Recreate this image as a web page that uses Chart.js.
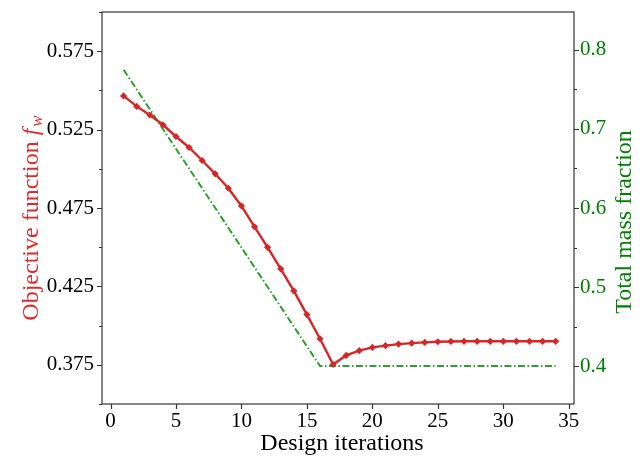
<!DOCTYPE html>
<html>
<head>
<meta charset="utf-8">
<script src="https://cdn.jsdelivr.net/npm/chart.js@4.4.1/dist/chart.umd.min.js"></script>
<style>
  html, body { margin: 0; padding: 0; background: #fff; }
  canvas { display: block; }
</style>
</head>
<body>
<canvas id="convChart" width="644" height="457"></canvas>
<script>
// بيانات الرسم
const iterations = [1, 2, 3, 4, 5, 6, 7, 8, 9, 10, 11, 12, 13, 14, 15, 16, 17,
  18, 19, 20, 21, 22, 23, 24, 25, 26, 27, 28, 29, 30, 31, 32, 33, 34];
const objective = [0.5465, 0.5398, 0.5343, 0.5281, 0.5206, 0.5136, 0.5053, 0.4968,
  0.4876, 0.4763, 0.4630, 0.4499, 0.4362, 0.4221, 0.4070, 0.3916, 0.3752,
  0.3810, 0.3841, 0.3861, 0.3872, 0.3882, 0.3888, 0.3893, 0.3897, 0.3899,
  0.3900, 0.3900, 0.3900, 0.3900, 0.3900, 0.3900, 0.3900, 0.3900];
const massFraction = [0.775, 0.750, 0.725, 0.700, 0.675, 0.650, 0.625, 0.600,
  0.575, 0.550, 0.525, 0.500, 0.475, 0.450, 0.425, 0.400, 0.400,
  0.400, 0.400, 0.400, 0.400, 0.400, 0.400, 0.400, 0.400, 0.400,
  0.400, 0.400, 0.400, 0.400, 0.400, 0.400, 0.400, 0.400];
const leftTickLabels = ['0.375', '0.425', '0.475', '0.525', '0.575'];
const rightTickLabels = ['0.4', '0.5', '0.6', '0.7', '0.8'];

const RED = '#d62728';
const GREEN = '#2ca02c';
const GREEN_TEXT = '#008000';
const SERIF = '"Liberation Serif", "DejaVu Serif", serif';

function label3(v) { return v.toFixed(3); }
function label1(v) { return v.toFixed(1); }

// نثبت مقاس كل محور ونلغي الحشو اللي بيضيفه Chart.js للعناوين
function fixSize(prop, size) {
  return s => {
    s[prop] = size;
    s.paddingTop = 0; s.paddingBottom = 0;
    s.paddingLeft = 0; s.paddingRight = 0;
  };
}

// الإطار + العلامات + عناوين المحاور
const framePlugin = {
  id: 'frame',
  afterDraw(chart) {
    const { ctx, chartArea: a, scales } = chart;
    ctx.save();
    ctx.strokeStyle = '#333';
    ctx.lineWidth = 1.2;
    ctx.strokeRect(a.left, a.top, a.right - a.left, a.bottom - a.top);

    ctx.beginPath();
    scales.x.ticks.forEach(t => {
      const px = Math.round(scales.x.getPixelForValue(t.value)) + 0.5;
      ctx.moveTo(px, a.bottom); ctx.lineTo(px, a.bottom + 5);
    });
    scales.y.ticks.forEach(t => {
      const py = Math.round(scales.y.getPixelForValue(t.value)) + 0.5;
      const len = leftTickLabels.includes(label3(t.value)) ? 5 : 3;
      ctx.moveTo(a.left - len, py); ctx.lineTo(a.left, py);
    });
    scales.y1.ticks.forEach(t => {
      const py = Math.round(scales.y1.getPixelForValue(t.value)) + 0.5;
      const len = rightTickLabels.includes(t.label) ? 5 : 3;
      ctx.moveTo(a.right, py); ctx.lineTo(a.right + len, py);
    });
    ctx.stroke();

    // عنوان المحور السفلي
    ctx.fillStyle = '#000';
    ctx.font = '24px ' + SERIF;
    ctx.textAlign = 'center';
    ctx.textBaseline = 'alphabetic';
    ctx.fillText('Design iterations', (a.left + a.right) / 2 + 4, 450);

    // عنوان المحور الأيسر (f مائل مع w سفلي)
    ctx.save();
    ctx.translate(38, 218);
    ctx.rotate(-Math.PI / 2);
    ctx.fillStyle = '#e02a2a';
    ctx.textAlign = 'left';
    const main = 'Objective function ';
    ctx.font = '24px ' + SERIF;
    const w1 = ctx.measureText(main).width;
    ctx.font = 'italic 24px ' + SERIF;
    const w2 = ctx.measureText('f').width;
    ctx.font = 'italic 17px ' + SERIF;
    const w3 = ctx.measureText('w').width;
    let x0 = -(w1 + w2 + w3 + 2) / 2;
    ctx.font = '24px ' + SERIF;
    ctx.fillText(main, x0, 0);
    ctx.font = 'italic 24px ' + SERIF;
    ctx.fillText('f', x0 + w1, 0);
    ctx.font = 'italic 17px ' + SERIF;
    ctx.fillText('w', x0 + w1 + w2 + 2, 4);
    ctx.restore();

    // عنوان المحور الأيمن
    ctx.save();
    ctx.translate(631, 222);
    ctx.rotate(-Math.PI / 2);
    ctx.fillStyle = GREEN_TEXT;
    ctx.font = '24px ' + SERIF;
    ctx.textAlign = 'center';
    ctx.fillText('Total mass fraction', 0, 0);
    ctx.restore();

    ctx.restore();
  }
};

const ctx = document.getElementById('convChart').getContext('2d');
new Chart(ctx, {
  type: 'line',
  data: {
    datasets: [
      {
        label: 'Objective function',
        data: iterations.map((it, i) => ({ x: it, y: objective[i] })),
        yAxisID: 'y',
        borderColor: RED,
        backgroundColor: RED,
        borderWidth: 2.4,
        pointStyle: 'rectRot',
        pointRadius: 3.6,
        pointBorderWidth: 0,
        tension: 0
      },
      {
        label: 'Total mass fraction',
        data: iterations.map((it, i) => ({ x: it, y: massFraction[i] })),
        yAxisID: 'y1',
        borderColor: GREEN,
        borderWidth: 2,
        borderDash: [7, 2.5, 1.5, 2.5],
        pointRadius: 0,
        tension: 0
      }
    ]
  },
  options: {
    responsive: false,
    animation: false,
    layout: { padding: { top: 12, left: 0, right: 0, bottom: 0 } },
    plugins: {
      legend: { display: false },
      tooltip: { enabled: false }
    },
    scales: {
      x: {
        type: 'linear',
        min: -0.65,
        max: 35.4,
        afterFit: fixSize('height', 53),
        grid: { drawOnChartArea: false, drawTicks: false },
        border: { display: false },
        ticks: {
          stepSize: 5,
          includeBounds: false,
          maxRotation: 0,
          padding: 5,
          color: '#000',
          font: { family: SERIF, size: 21 }
        }
      },
      y: {
        position: 'left',
        min: 0.35,
        max: 0.60,
        afterFit: fixSize('width', 102),
        grid: { drawOnChartArea: false, drawTicks: false },
        border: { display: false },
        ticks: {
          stepSize: 0.025,
          includeBounds: false,
          padding: 8,
          color: '#000',
          font: { family: SERIF, size: 21 },
          callback: v => leftTickLabels.includes(label3(v)) ? label3(v) : ''
        }
      },
      y1: {
        position: 'right',
        min: 0.352,
        max: 0.848,
        afterFit: fixSize('width', 70),
        grid: { drawOnChartArea: false, drawTicks: false },
        border: { display: false },
        ticks: {
          stepSize: 0.05,
          includeBounds: false,
          padding: 6,
          color: GREEN_TEXT,
          font: { family: SERIF, size: 21 },
          callback: v => rightTickLabels.includes(label1(v)) && Math.abs(v * 10 - Math.round(v * 10)) < 1e-6 ? label1(v) : ''
        }
      }
    }
  },
  plugins: [framePlugin]
});
</script>
</body>
</html>
